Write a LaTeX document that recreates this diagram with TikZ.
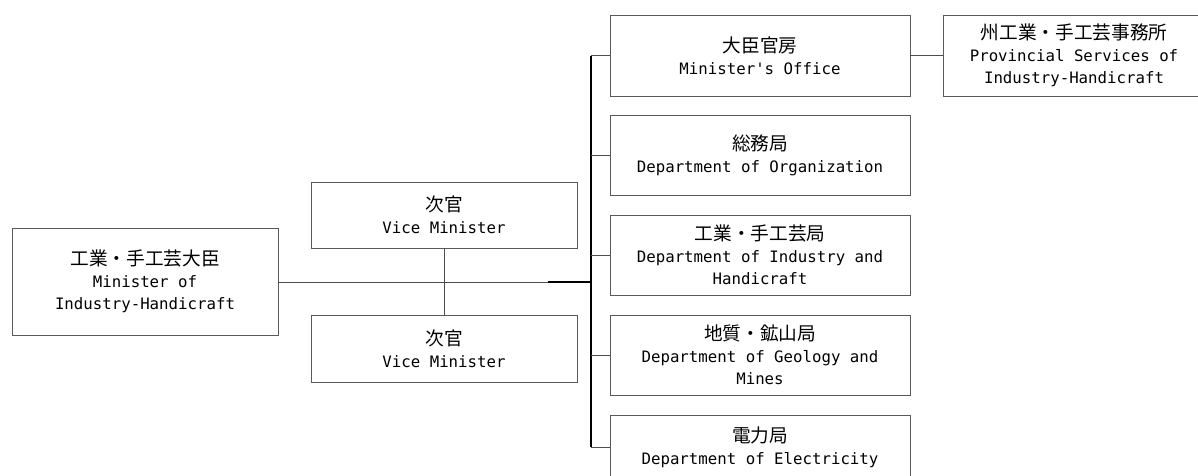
\documentclass[tikz,border=0pt]{standalone}
\usepackage{fontspec}
\newfontfamily\jpf{Noto Sans CJK JP}
\newfontfamily\enf{DejaVu Sans Mono}
\newcommand\jl[1]{{\jpf\fontsize{14pt}{16.5pt}\selectfont #1}}
\begin{document}
\begin{tikzpicture}[x=0.75pt,y=-0.75pt,
  box/.style={draw=black!65, line width=0.75pt, inner sep=0pt, outer sep=0pt, align=center,
    font=\enf\fontsize{11.8pt}{16.5pt}\selectfont, minimum width=225pt, minimum height=60pt},
  conn/.style={draw=black!70, line width=0.75pt},
  busline/.style={draw=black, line width=0.9pt}]
\fill[white] (0,0) rectangle (1198,475);
\useasboundingbox (0,0) rectangle (1198,475);
\node[box, minimum width=199.5pt, minimum height=80.25pt] (min) at (145,281.5) {\jl{工業・手工芸大臣}\\Minister of\\Industry-Handicraft};
\node[box, minimum width=199.5pt, minimum height=49.5pt] (vma) at (444,215) {\jl{次官}\\Vice Minister};
\node[box, minimum width=199.5pt, minimum height=50.25pt] (vmb) at (444,348.5) {\jl{次官}\\Vice Minister};
\node[box, minimum height=60.75pt] (off) at (760,55.5) {\jl{大臣官房}\\Minister's Office};
\node[box] (org) at (760,155) {\jl{総務局}\\Department of Organization};
\node[box] (ind) at (760,255) {\jl{工業・手工芸局}\\Department of Industry and\\Handicraft};
\node[box] (geo) at (760,355) {\jl{地質・鉱山局}\\Department of Geology and\\Mines};
\node[box, minimum height=48pt] (ele) at (760,447) {\jl{電力局}\\Department of Electricity};
\node[box, minimum width=196.5pt, minimum height=60.75pt] (prov) at (1074,55.5) {\jl{州工業・手工芸事務所}\\Provincial Services of\\Industry-Handicraft};
\coordinate (bt) at (591,55.5);
\coordinate (bb) at (591,447);
\coordinate (jb) at (548,282);
\coordinate (j) at (591,282);
\draw[conn] (min.east |- j) -- (j);
\draw[busline] (jb) -- (j);
\draw[conn] (vma.south) -- (vmb.north);
\draw[busline] (bt) -- (bb);
\foreach \n in {off,org,ind,geo,ele} \draw[conn] (bt |- \n.west) -- (\n.west);
\draw[conn] (off.east) -- (prov.west);
\end{tikzpicture}
\end{document}
